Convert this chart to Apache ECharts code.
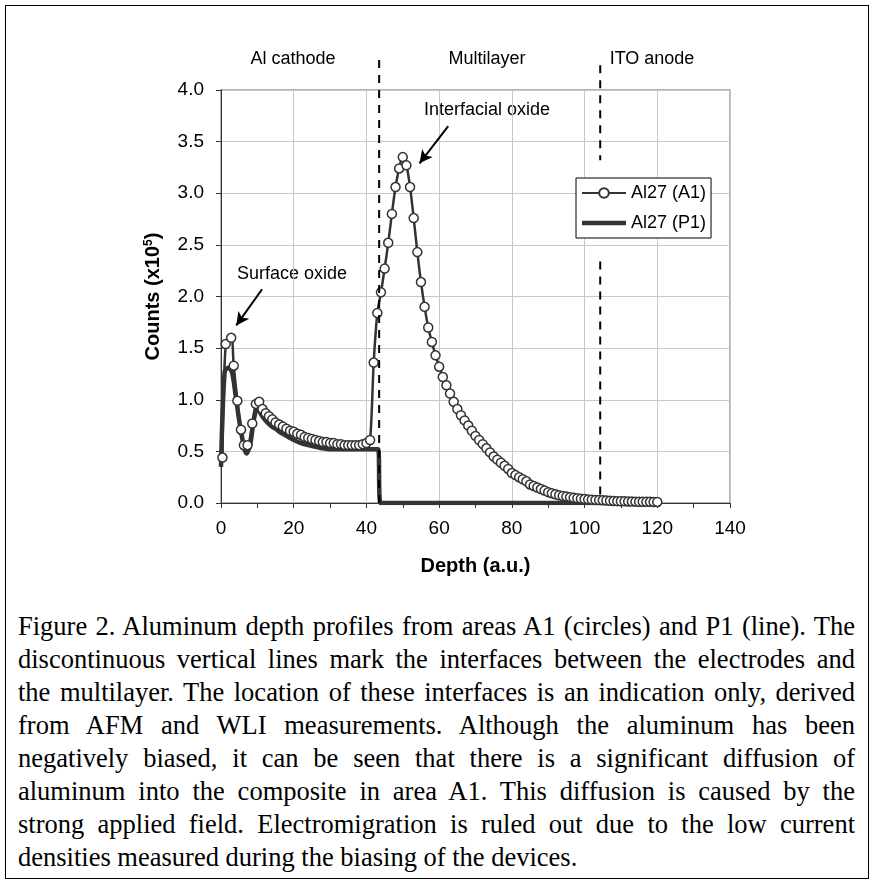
<!DOCTYPE html>
<html lang="en">
<head>
    <meta charset="UTF-8">
    <title>Aluminum depth profiles</title>
    <script src="https://cdn.jsdelivr.net/npm/echarts@6/dist/echarts.min.js"></script>
    <style>
        html, body { margin: 0; padding: 0; background: #fff; }
        #frame { position: absolute; left: 5px; top: 5px; width: 864px; height: 874px; border: 1px solid #000; box-sizing: border-box; }
        #chart { position: absolute; left: 0; top: 0; width: 873px; height: 600px; }
        #caption { position: absolute; left: 18px; top: 610px; width: 837px;
            font-family: "Liberation Serif", "Times New Roman", serif; font-size: 26.5px; line-height: 33px; color: #000; }
        #caption div { text-align: justify; text-align-last: justify; white-space: normal; }
        #caption div.last { text-align-last: left; }
    </style>
</head>
<body>
<div id="frame"></div>
<div id="chart"></div>
<div id="caption">
    <div>Figure 2. Aluminum depth profiles from areas A1 (circles) and P1 (line). The</div>
    <div>discontinuous vertical lines mark the interfaces between the electrodes and</div>
    <div>the multilayer. The location of these interfaces is an indication only, derived</div>
    <div>from AFM and WLI measurements. Although the aluminum has been</div>
    <div>negatively biased, it can be seen that there is a significant diffusion of</div>
    <div>aluminum into the composite in area A1. This diffusion is caused by the</div>
    <div>strong applied field. Electromigration is ruled out due to the low current</div>
    <div class="last">densities measured during the biasing of the devices.</div>
</div>
<script type="text/javascript">
    // Al27 (A1) - circles
    var depthA = [0.4, 1.3, 2.8, 3.5, 4.5, 5.5, 6.3, 7.3, 8.6, 9.6, 10.5, 11.4, 12.3, 13.2, 14.1, 15, 16, 17, 18, 19,
        20, 21, 22, 23, 24, 25, 26, 27, 28, 29, 30, 31, 32, 33, 34, 35, 36, 37, 38, 39,
        40, 41, 42, 43, 44, 45, 46, 47, 48, 49, 50, 51, 52, 53, 54, 55, 56, 57, 58, 59,
        60, 61, 62, 63, 64, 65, 66, 67, 68, 69, 70, 71, 72, 73, 74, 75, 76, 77, 78, 79,
        80, 81, 82, 83, 84, 85, 86, 87, 88, 89, 90, 91, 92, 93, 94, 95, 96, 97, 98, 99,
        100, 101, 102, 103, 104, 105, 106, 107, 108, 109, 110, 111, 112, 113, 114, 115, 116, 117, 118, 119, 120];
    var countsA = [0.44, 1.54, 1.60, 1.33, 0.99, 0.71, 0.56, 0.56, 0.77, 0.96, 0.98, 0.91, 0.87, 0.84, 0.81, 0.78, 0.76, 0.74, 0.72, 0.70,
        0.69, 0.67, 0.66, 0.64, 0.63, 0.62, 0.61, 0.60, 0.59, 0.59, 0.58, 0.58, 0.57, 0.57, 0.56, 0.56, 0.56, 0.56, 0.56, 0.57,
        0.58, 0.61, 1.36, 1.84, 2.04, 2.27, 2.52, 2.80, 3.06, 3.24, 3.35, 3.27, 3.06, 2.76, 2.43, 2.14, 1.90, 1.70, 1.56, 1.43,
        1.32, 1.22, 1.14, 1.06, 0.98, 0.91, 0.85, 0.80, 0.75, 0.70, 0.65, 0.61, 0.57, 0.53, 0.49, 0.45, 0.42, 0.39, 0.36, 0.33,
        0.29, 0.27, 0.25, 0.23, 0.21, 0.18, 0.165, 0.15, 0.135, 0.12, 0.105, 0.095, 0.085, 0.075, 0.068, 0.062, 0.056, 0.05, 0.046, 0.042,
        0.038, 0.035, 0.032, 0.03, 0.028, 0.026, 0.024, 0.022, 0.02, 0.018, 0.017, 0.016, 0.015, 0.014, 0.013, 0.012, 0.012, 0.011, 0.011, 0.01, 0.01];

    // Al27 (P1) - thick line
    var depthP = [0, 1, 2, 3, 4, 5, 6, 7, 8, 9, 10, 11, 12, 13, 14, 15, 16, 17, 18, 19, 20, 22, 24, 26, 28, 30,
        33, 36, 39, 42, 43.2, 43.9, 46, 50, 60, 70, 80, 90, 100, 105];
    var countsP = [0.35, 1.27, 1.31, 1.27, 1.05, 0.80, 0.60, 0.48, 0.56, 0.80, 0.92, 0.86, 0.81, 0.77, 0.74, 0.72, 0.69, 0.67, 0.65, 0.63, 0.61, 0.58, 0.56, 0.545, 0.53, 0.52,
        0.52, 0.52, 0.52, 0.52, 0.52, 0.0, 0.0, 0.0, 0.0, 0.0, 0.0, 0.0, 0.0, 0.0];

    // interface markers (depth) and region labels
    var interfaceLeft = 43.5;
    var interfaceRight = 104.3;
    var regionNames = ['Al cathode', 'Multilayer', 'ITO anode'];
    var seriesNames = ['Al27 (A1)', 'Al27 (P1)'];

    function pairs(xs, ys) {
        var out = [];
        for (var i = 0; i < xs.length; i++) out.push([xs[i], ys[i]]);
        return out;
    }

    var font = '"Liberation Sans", Arial, sans-serif';
    var dark = '#333333';
    var dashStyle = {color: '#000', width: 2, type: [8, 7]};

    var myEchart = echarts.init(document.getElementById('chart'), null, {renderer: 'canvas'});
    var option = {
        animation: false,
        backgroundColor: 'transparent',
        grid: {
            left: 221, top: 90, width: 509, height: 413,
            show: true, borderColor: '#9a9a9a', borderWidth: 1.5,
            outerBoundsMode: 'none'
        },
        legend: {
            data: [
                {name: seriesNames[0]},
                {name: seriesNames[1], icon: 'path://M0,0H44V4.5H0Z'}
            ],
            orient: 'vertical',
            left: 576, top: 178,
            padding: [6, 5, 6, 5],
            itemWidth: 44, itemHeight: 12, itemGap: 12,
            symbolKeepAspect: true,
            borderColor: '#000', borderWidth: 1, borderRadius: 0,
            backgroundColor: '#fff',
            selectedMode: false,
            textStyle: {fontFamily: font, fontSize: 18, color: '#000'}
        },
        xAxis: {
            type: 'value', min: 0, max: 140, interval: 20,
            name: 'Depth (a.u.)', nameLocation: 'middle', nameGap: 53,
            nameTextStyle: {fontFamily: font, fontSize: 20, fontWeight: 'bold', color: '#000'},
            axisLine: {show: true, lineStyle: {color: dark, width: 1}},
            axisTick: {show: true, length: 5, lineStyle: {color: dark}},
            minorTick: {show: true, splitNumber: 2, length: 5, lineStyle: {color: dark}},
            axisLabel: {fontFamily: font, fontSize: 19, color: '#000', margin: 16},
            splitLine: {show: true, lineStyle: {color: '#c8c8c8', width: 1}}
        },
        yAxis: {
            type: 'value', min: 0, max: 4, interval: 0.5,
            name: 'Counts (x10{sup|5})', nameLocation: 'middle', nameGap: 57,
            nameTextStyle: {
                fontFamily: font, fontSize: 20, fontWeight: 'bold', color: '#000',
                rich: {sup: {fontFamily: font, fontSize: 12, fontWeight: 'bold', color: '#000', padding: [0, 0, 9, 0]}}
            },
            axisLine: {show: true, lineStyle: {color: dark, width: 1}},
            axisTick: {show: true, length: 5, lineStyle: {color: dark}},
            axisLabel: {
                fontFamily: font, fontSize: 19, color: '#000', margin: 17,
                formatter: function (v) { return v.toFixed(1); }
            },
            splitLine: {show: true, lineStyle: {color: '#c8c8c8', width: 1}}
        },
        series: [
            {
                name: seriesNames[1],
                type: 'line',
                data: pairs(depthP, countsP),
                smooth: 0.3,
                showSymbol: false,
                symbol: 'none',
                lineStyle: {color: dark, width: 4.5},
                itemStyle: {color: dark},
                z: 2
            },
            {
                name: seriesNames[0],
                type: 'line',
                data: pairs(depthA, countsA),
                smooth: 0.3,
                symbol: 'circle',
                symbolSize: 9,
                lineStyle: {color: dark, width: 2.5},
                itemStyle: {color: '#fff', borderColor: dark, borderWidth: 1.5},
                z: 3
            },
            {
                name: 'interface1',
                type: 'line',
                data: [[interfaceLeft, 0], [interfaceLeft, 4.33]],
                symbol: 'none',
                clip: false,
                lineStyle: dashStyle,
                z: 4,
                markLine: {
                    silent: true,
                    symbol: ['none', 'arrow'],
                    symbolSize: [10, 13],
                    lineStyle: {type: 'solid', color: '#000', width: 2},
                    label: {show: false},
                    data: [
                        [{coord: [62.5, 3.65]}, {coord: [54.6, 3.29]}],
                        [{coord: [11.3, 2.07]}, {coord: [4.2, 1.72]}]
                    ]
                }
            },
            {
                name: 'interface2a',
                type: 'line',
                data: [[interfaceRight, 4.24], [interfaceRight, 3.32]],
                symbol: 'none',
                clip: false,
                lineStyle: dashStyle,
                z: 4
            },
            {
                name: 'interface2b',
                type: 'line',
                data: [[interfaceRight, 2.34], [interfaceRight, 0.03]],
                symbol: 'none',
                clip: false,
                lineStyle: dashStyle,
                z: 4
            }
        ],
        graphic: [
            {type: 'text', x: 293, y: 59, style: {text: regionNames[0], font: '18px ' + font, fill: '#000', textAlign: 'center', textVerticalAlign: 'middle'}},
            {type: 'text', x: 487, y: 59, style: {text: regionNames[1], font: '18px ' + font, fill: '#000', textAlign: 'center', textVerticalAlign: 'middle'}},
            {type: 'text', x: 652, y: 59, style: {text: regionNames[2], font: '18px ' + font, fill: '#000', textAlign: 'center', textVerticalAlign: 'middle'}},
            {type: 'text', x: 487, y: 110, style: {text: 'Interfacial oxide', font: '18px ' + font, fill: '#000', textAlign: 'center', textVerticalAlign: 'middle'}},
            {type: 'text', x: 292, y: 274, style: {text: 'Surface oxide', font: '18px ' + font, fill: '#000', textAlign: 'center', textVerticalAlign: 'middle'}}
        ]
    };
    myEchart.setOption(option);
</script>
</body>
</html>
